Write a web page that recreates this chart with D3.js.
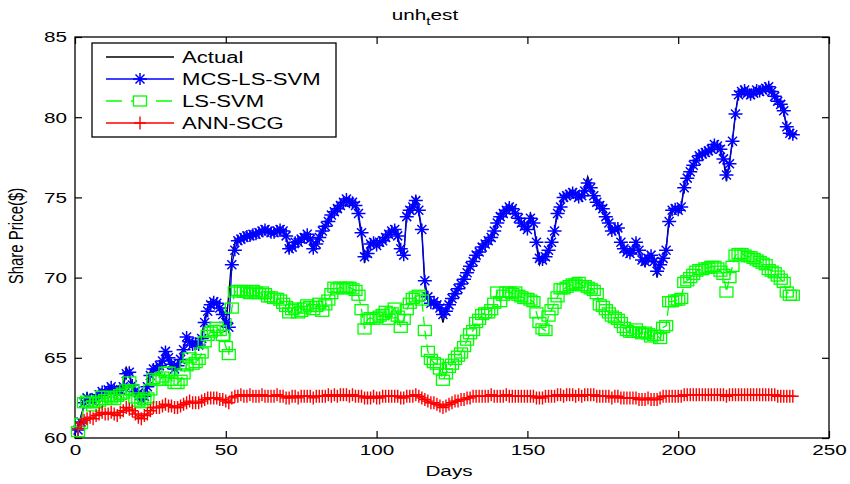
<!DOCTYPE html>
<html>
<head>
<meta charset="utf-8">
<script src="https://cdn.jsdelivr.net/npm/d3@7"></script>
<style>
  body { margin: 0; background: #fff; }
  svg { display: block; }
  text { font-family: "Liberation Sans", Arial, sans-serif; fill: #000; }
</style>
</head>
<body>
<svg id="chart" width="850" height="484"></svg>
<script>
// Daily closing share price (UNH test set) and the three model predictions.
const actual = [
  60.6, 61.4, 62.0, 62.8, 62.3, 62.2, 62.5, 62.6, 63.0, 62.7,
  63.1, 63.2, 62.9, 62.8, 63.0, 63.3, 64.4, 64.0, 63.0, 62.8,
  62.9, 62.3, 62.7, 63.4, 64.1, 64.4, 64.3, 64.6, 64.9, 65.5,
  64.8, 64.5, 64.2, 64.6, 64.9, 65.6, 66.3, 65.9, 65.7, 65.9,
  65.8, 66.4, 67.4, 68.1, 68.3, 68.5, 68.3, 68.0, 67.6, 66.9,
  69.0, 71.3, 72.2, 72.4, 72.5, 72.5, 72.6, 72.7, 72.8, 72.7,
  72.9, 73.0, 73.1, 72.9, 72.8, 72.9, 73.0, 73.1, 72.9, 72.5,
  71.6, 72.0, 72.3, 72.2, 72.5, 72.6, 72.8, 72.3, 71.7, 72.2,
  72.6, 73.0, 73.3, 73.6, 74.0, 74.2, 74.4, 74.6, 74.8, 75.0,
  74.7, 74.8, 74.5, 73.8, 72.5, 70.9, 71.8, 72.2, 72.2, 72.0,
  72.3, 72.3, 72.6, 72.8, 73.0, 73.0, 72.5, 71.6, 71.4, 74.2,
  74.3, 74.4, 75.1, 74.0, 72.8, 69.4, 68.6, 68.3, 68.5, 68.2,
  68.0, 67.2, 68.0, 68.4, 68.8, 69.1, 69.4, 69.6, 70.0, 70.3,
  70.8, 71.1, 71.4, 71.6, 71.9, 72.2, 72.4, 72.5, 73.0, 73.5,
  73.8, 74.1, 74.3, 74.4, 74.3, 74.0, 73.7, 73.4, 73.2, 73.0,
  74.0, 73.5, 72.0, 70.8, 71.2, 71.3, 71.8, 72.3, 73.0, 74.3,
  74.5, 75.1, 75.2, 75.3, 75.3, 75.2, 75.0, 75.1, 75.6, 76.3,
  75.7, 75.1, 74.6, 74.5, 74.3, 73.8, 73.3, 72.8, 73.0, 73.2,
  72.0, 71.7, 71.6, 71.5, 71.8, 72.3, 71.6, 71.0, 70.7, 71.2,
  71.4, 71.0, 70.0, 70.9, 71.3, 71.8, 73.8, 74.3, 74.3, 74.2,
  74.4, 75.9, 76.3, 76.7, 77.1, 77.4, 77.7, 77.8, 77.8, 77.9,
  78.1, 78.3, 78.2, 78.0, 77.3, 76.0, 77.2, 78.6, 80.3, 81.5,
  81.6, 81.7, 81.5, 81.4, 81.6, 81.7, 81.6, 81.8, 81.9, 82.0,
  81.6, 81.3, 81.0, 80.8, 80.3, 79.3, 78.9, 78.9
];

const mcsLsSvm = [
  60.5, 61.0, 62.2, 62.5, 62.4, 62.3, 62.5, 62.7, 62.9, 62.8,
  63.0, 63.2, 63.0, 62.8, 63.0, 63.2, 64.0, 64.1, 63.3, 62.9,
  62.8, 62.4, 62.6, 63.2, 63.9, 64.3, 64.3, 64.5, 64.8, 65.4,
  65.0, 64.6, 64.3, 64.5, 64.9, 65.5, 66.3, 66.0, 65.8, 65.9,
  65.8, 66.2, 67.2, 67.9, 68.3, 68.5, 68.4, 68.1, 67.7, 67.2,
  66.9, 70.8, 71.7, 72.3, 72.4, 72.5, 72.6, 72.6, 72.7, 72.7,
  72.8, 72.9, 73.0, 72.9, 72.8, 72.8, 72.9, 73.0, 72.9, 72.6,
  71.8, 71.9, 72.2, 72.2, 72.4, 72.5, 72.7, 72.4, 71.8, 72.1,
  72.5, 72.9, 73.2, 73.5, 73.9, 74.1, 74.3, 74.5, 74.7, 74.9,
  74.7, 74.7, 74.5, 74.0, 72.8, 71.3, 71.5, 72.1, 72.2, 72.0,
  72.2, 72.3, 72.5, 72.7, 72.9, 73.0, 72.6, 71.8, 71.4, 73.8,
  74.2, 74.4, 74.8, 74.2, 73.0, 69.8, 68.8, 68.4, 68.5, 68.3,
  68.1, 67.7, 67.9, 68.3, 68.7, 69.0, 69.3, 69.6, 69.9, 70.3,
  70.7, 71.0, 71.4, 71.6, 71.9, 72.1, 72.3, 72.5, 72.9, 73.4,
  73.8, 74.0, 74.2, 74.4, 74.3, 74.0, 73.7, 73.4, 73.2, 73.0,
  73.7, 73.4, 72.2, 71.2, 71.1, 71.3, 71.7, 72.2, 72.9, 74.0,
  74.4, 75.0, 75.1, 75.2, 75.3, 75.2, 75.0, 75.1, 75.4, 75.9,
  75.6, 75.1, 74.7, 74.5, 74.3, 73.8, 73.4, 72.9, 73.0, 73.1,
  72.2, 71.8, 71.6, 71.5, 71.7, 72.2, 71.7, 71.1, 71.0, 71.2,
  71.4, 71.0, 70.4, 70.8, 71.2, 71.7, 73.5, 74.2, 74.3, 74.2,
  74.4, 75.6, 76.2, 76.6, 77.0, 77.3, 77.6, 77.7, 77.8, 77.9,
  78.0, 78.3, 78.2, 78.0, 77.4, 76.4, 77.1, 78.5, 80.2, 81.4,
  81.6, 81.7, 81.5, 81.4, 81.5, 81.7, 81.6, 81.7, 81.8, 81.9,
  81.6, 81.3, 81.0, 80.8, 80.4, 79.4, 79.0, 78.9
];

const lsSvm = [
  60.4, 60.9, 62.2, 62.3, 62.2, 62.0, 62.2, 62.3, 62.6, 62.4,
  62.6, 62.5, 62.4, 62.6, 62.7, 62.8, 63.0, 63.5, 63.0, 62.5,
  62.3, 62.2, 62.4, 62.5, 63.0, 63.7, 63.6, 63.6, 63.8, 64.1,
  64.1, 63.6, 63.4, 63.4, 63.6, 64.0, 64.5, 65.0, 64.6, 64.7,
  64.9, 65.3, 66.0, 66.4, 66.6, 66.7, 66.9, 66.7, 66.4, 65.7,
  65.2, 68.1, 69.1, 69.2, 69.2, 69.1, 69.1, 69.0, 69.2, 69.1,
  69.0, 69.1, 69.0, 68.8, 68.8, 68.7, 68.7, 68.6, 68.4, 68.2,
  67.8, 68.0, 68.1, 67.8, 67.9, 68.1, 68.3, 68.2, 68.0, 68.2,
  68.4, 67.9, 68.3, 68.6, 69.0, 69.4, 69.3, 69.4, 69.3, 69.4,
  69.4, 69.3, 69.2, 68.9, 68.0, 66.8, 67.4, 67.5, 67.4, 67.5,
  67.6, 67.7, 67.9, 67.4, 67.8, 68.1, 67.6, 66.9, 67.4, 68.0,
  68.4, 68.7, 68.8, 68.9, 68.6, 66.7, 65.4, 64.9, 64.7, 64.6,
  64.3, 63.6, 64.0, 64.4, 64.6, 64.9, 65.1, 65.3, 65.7, 66.1,
  66.5, 66.7, 67.2, 67.4, 67.7, 67.8, 67.8, 68.0, 68.4, 69.1,
  68.5, 68.9, 69.1, 69.1, 69.0, 69.1, 68.9, 68.8, 68.7, 68.7,
  68.6, 68.5, 67.8, 67.2, 66.8, 66.7, 67.6, 68.0, 68.4, 68.8,
  69.3, 69.3, 69.4, 69.5, 69.6, 69.6, 69.7, 69.5, 69.5, 69.4,
  69.3, 69.2, 69.0, 68.3, 68.2, 68.0, 67.8, 67.6, 67.5, 67.4,
  67.2, 66.9, 66.7, 66.6, 66.6, 66.8, 66.6, 66.5, 66.6, 66.5,
  66.3, 66.4, 66.4, 66.2, 66.9, 67.0, 68.5, 68.5, 68.6, 68.6,
  68.7, 69.7, 69.8, 70.0, 70.2, 70.4, 70.5, 70.5, 70.6, 70.6,
  70.7, 70.7, 70.6, 70.4, 70.2, 69.1, 70.0, 70.7, 71.4, 71.5,
  71.5, 71.4, 71.3, 71.3, 71.2, 71.1, 71.0, 70.9, 70.8, 70.5,
  70.4, 70.3, 70.1, 69.9, 69.7, 69.1, 68.9, 68.9
];

const annScg = [
  60.6, 60.9, 61.1, 61.2, 61.3, 61.2, 61.4, 61.5, 61.6, 61.5,
  61.5, 61.6, 61.5, 61.4, 61.6, 61.7, 61.9, 61.8, 61.7, 61.5,
  61.3, 61.2, 61.4, 61.5, 61.7, 61.9, 61.9, 61.9, 62.0, 62.1,
  62.0, 62.0, 61.9, 61.9, 62.0, 62.1, 62.2, 62.3, 62.2, 62.2,
  62.2, 62.3, 62.4, 62.5, 62.5, 62.5, 62.5, 62.4, 62.4, 62.3,
  62.2, 62.5, 62.6, 62.6, 62.7, 62.6, 62.6, 62.7, 62.6, 62.6,
  62.6, 62.7, 62.6, 62.6, 62.6, 62.6, 62.7, 62.6, 62.6, 62.5,
  62.5, 62.6, 62.6, 62.5, 62.6, 62.6, 62.6, 62.6, 62.5, 62.6,
  62.6, 62.6, 62.6, 62.7, 62.6, 62.7, 62.6, 62.7, 62.7, 62.7,
  62.6, 62.7, 62.6, 62.6, 62.6, 62.5, 62.5, 62.5, 62.6, 62.5,
  62.5, 62.6, 62.6, 62.6, 62.6, 62.6, 62.6, 62.5, 62.5, 62.6,
  62.6, 62.6, 62.7, 62.6, 62.5, 62.4, 62.3, 62.2, 62.2, 62.1,
  62.0, 61.9, 62.0, 62.1, 62.2, 62.3, 62.3, 62.4, 62.4, 62.5,
  62.5, 62.6, 62.6, 62.6, 62.6, 62.6, 62.6, 62.7, 62.6, 62.6,
  62.6, 62.6, 62.7, 62.6, 62.6, 62.6, 62.6, 62.6, 62.6, 62.6,
  62.6, 62.6, 62.5, 62.5, 62.5, 62.6, 62.6, 62.6, 62.6, 62.7,
  62.7, 62.6, 62.7, 62.7, 62.7, 62.6, 62.7, 62.6, 62.7, 62.7,
  62.7, 62.7, 62.6, 62.6, 62.6, 62.6, 62.6, 62.5, 62.6, 62.6,
  62.5, 62.5, 62.5, 62.5, 62.5, 62.5, 62.4, 62.4, 62.4, 62.5,
  62.4, 62.4, 62.4, 62.5, 62.6, 62.6, 62.6, 62.6, 62.6, 62.6,
  62.6, 62.7, 62.7, 62.7, 62.7, 62.7, 62.7, 62.7, 62.7, 62.7,
  62.7, 62.7, 62.7, 62.7, 62.7, 62.6, 62.7, 62.7, 62.7, 62.7,
  62.7, 62.7, 62.7, 62.7, 62.7, 62.7, 62.7, 62.7, 62.7, 62.7,
  62.7, 62.7, 62.6, 62.6, 62.6, 62.6, 62.6, 62.6
];

const seriesNames = ["Actual", "MCS-LS-SVM", "LS-SVM", "ANN-SCG"];
const xTicks = [0, 50, 100, 150, 200, 250];
const yTicks = [60, 65, 70, 75, 80, 85];
const titleMain = "unh", titleSub = "t", titleRest = "est";
const xTitle = "Days", yTitle = "Share Price($)";

const days = actual.map((_, i) => i + 1);

// ---- layout ----
const svg = d3.select("#chart");
const plot = { left: 75, right: 829, top: 37, bottom: 438 };
const SX = 1.38;           // glyphs are drawn horizontally widened
const FONT = 15;

const x = d3.scaleLinear().domain([0, 250]).range([plot.left, plot.right]);
const y = d3.scaleLinear().domain([60, 85]).range([plot.bottom, plot.top]);

// ---- axes (ticks point inward on all four sides) ----
function styleAxis(g) {
  g.select(".domain").remove();
  g.selectAll(".tick line").attr("stroke", "#000").attr("stroke-width", 1.2);
  g.selectAll(".tick text")
    .attr("font-family", '"Liberation Sans", Arial, sans-serif')
    .attr("font-size", FONT)
    .attr("fill", "#000");
}

svg.append("g")
  .attr("transform", `translate(0,${plot.bottom})`)
  .call(d3.axisBottom(x).tickValues(xTicks).tickSizeInner(-7).tickSizeOuter(0).tickPadding(6))
  .call(styleAxis)
  .call(g => g.selectAll(".tick text").attr("transform", `scale(${SX},1)`));

svg.append("g")
  .attr("transform", `translate(0,${plot.top})`)
  .call(d3.axisTop(x).tickValues(xTicks).tickSizeInner(-7).tickSizeOuter(0).tickFormat(""))
  .call(styleAxis);

svg.append("g")
  .attr("transform", `translate(${plot.left},0)`)
  .call(d3.axisLeft(y).tickValues(yTicks).tickSizeInner(-7).tickSizeOuter(0).tickPadding(8 / SX))
  .call(styleAxis)
  .call(g => g.selectAll(".tick text").attr("transform", `scale(${SX},1)`));

svg.append("g")
  .attr("transform", `translate(${plot.right},0)`)
  .call(d3.axisRight(y).tickValues(yTicks).tickSizeInner(-7).tickSizeOuter(0).tickFormat(""))
  .call(styleAxis);

// axes box
svg.append("rect")
  .attr("x", plot.left).attr("y", plot.top)
  .attr("width", plot.right - plot.left).attr("height", plot.bottom - plot.top)
  .attr("fill", "none").attr("stroke", "#000").attr("stroke-width", 1.3);

// ---- markers ----
const starPath = "M-7,0H7M0,-6V6M-4.5,-4.5L4.5,4.5M-4.5,4.5L4.5,-4.5";
const plusPath = "M-6,0H6M0,-6.5V6.5";

function drawMarker(g, kind, color) {
  if (kind === "star") {
    g.append("path").attr("d", starPath).attr("stroke", color).attr("stroke-width", 1.5).attr("fill", "none");
  } else if (kind === "square") {
    g.append("rect").attr("x", -6.5).attr("y", -5).attr("width", 13).attr("height", 10)
      .attr("stroke", color).attr("stroke-width", 1.3).attr("fill", "none");
  } else if (kind === "plus") {
    g.append("path").attr("d", plusPath).attr("stroke", color).attr("stroke-width", 1.4).attr("fill", "none");
  }
}

const series = [
  { name: seriesNames[0], values: actual,   color: "#000000", marker: null,     dash: null },
  { name: seriesNames[1], values: mcsLsSvm, color: "#0000ff", marker: "star",   dash: null },
  { name: seriesNames[2], values: lsSvm,    color: "#00ff00", marker: "square", dash: "9,5" },
  { name: seriesNames[3], values: annScg,   color: "#ff0000", marker: "plus",   dash: null }
];

const line = d3.line().x(d => x(d[0])).y(d => y(d[1]));

series.forEach(s => {
  const pts = days.map((d, i) => [d, s.values[i]]);
  const g = svg.append("g");
  g.append("path")
    .attr("d", line(pts))
    .attr("fill", "none")
    .attr("stroke", s.color)
    .attr("stroke-width", 1.3)
    .attr("stroke-dasharray", s.dash);
  if (s.marker) {
    g.selectAll("g.mk").data(pts).join("g")
      .attr("class", "mk")
      .attr("transform", d => `translate(${x(d[0])},${y(d[1])})`)
      .each(function () { drawMarker(d3.select(this), s.marker, s.color); });
  }
});

// ---- legend ----
const lg = svg.append("g");
lg.append("rect")
  .attr("x", 92).attr("y", 43).attr("width", 244).attr("height", 94)
  .attr("fill", "#fff").attr("stroke", "#000").attr("stroke-width", 1.3);
const rowY = [57, 79, 101, 123];
series.forEach((s, i) => {
  const ry = rowY[i];
  lg.append("line")
    .attr("x1", 106).attr("x2", 174).attr("y1", ry).attr("y2", ry)
    .attr("stroke", s.color).attr("stroke-width", 1.3)
    .attr("stroke-dasharray", s.dash ? "16,9" : null);
  if (s.marker) {
    const mg = lg.append("g").attr("transform", `translate(140,${ry})`);
    if (s.marker === "square") {
      mg.append("rect").attr("x", -7).attr("y", -5).attr("width", 14).attr("height", 10).attr("fill", "#fff");
    }
    drawMarker(mg, s.marker, s.color);
  }
  lg.append("text")
    .attr("transform", `translate(182,${ry + 6}) scale(${SX},1)`)
    .attr("font-size", 16)
    .text(s.name);
});

// ---- titles ----
const title = svg.append("text")
  .attr("transform", `translate(425,20) scale(${SX},1)`)
  .attr("text-anchor", "middle")
  .attr("font-size", FONT);
title.append("tspan").text(titleMain);
title.append("tspan").attr("dy", 5).attr("font-size", 11).text(titleSub);
title.append("tspan").attr("dy", -5).text(titleRest);

svg.append("text")
  .attr("transform", `translate(449,476) scale(${SX},1)`)
  .attr("text-anchor", "middle")
  .attr("font-size", FONT)
  .text(xTitle);

svg.append("text")
  .attr("transform", `translate(23,236) scale(${SX},1) rotate(-90)`)
  .attr("text-anchor", "middle")
  .attr("font-size", FONT)
  .text(yTitle);
</script>
</body>
</html>
